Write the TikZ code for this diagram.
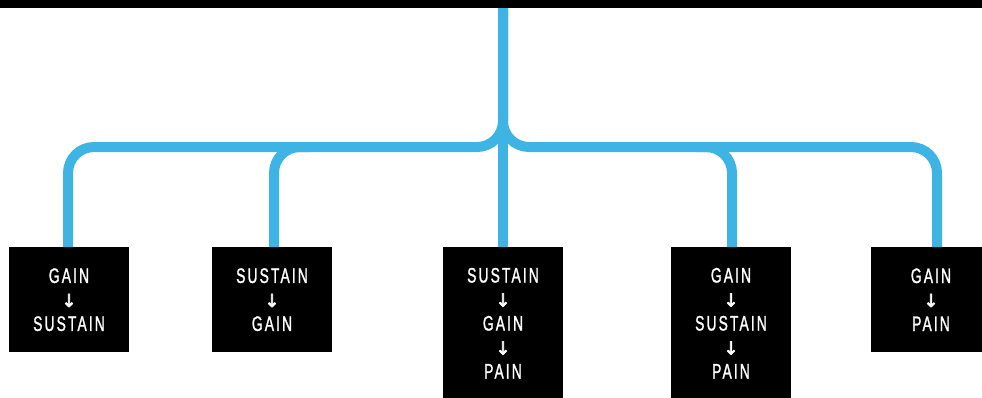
\documentclass[tikz,border=0pt]{standalone}
\usepackage{fontspec}
\usepackage{tikz}
\usetikzlibrary{positioning}
\newfontfamily\boxfont{Liberation Sans}[FakeStretch=0.66, LetterSpace=10, FakeBold=1.2]
\newfontfamily\arrfont{DejaVu Sans}[FakeBold=3]
\definecolor{skyblue}{RGB}{62,180,228}
\newcommand{\dn}{{\arrfont\fontsize{18}{24}\selectfont ↓}}
\tikzset{
  pathbox/.style={rectangle, fill=black, text=white, inner sep=0pt,
    minimum width=120pt, minimum height=105pt, anchor=north,
    align=center, font=\boxfont\fontsize{21}{24}\selectfont},
  pathboxL/.style={pathbox, minimum height=152pt},
  link/.style={draw=skyblue, line width=10pt, rounded corners=26pt},
}
\begin{document}
\begin{tikzpicture}[x=1pt, y=-1pt]
  \useasboundingbox (0,0) rectangle (982,397);

  \node[fill=black, minimum width=982pt, minimum height=8pt, inner sep=0pt,
        anchor=north west] (bar) at (0,0) {};

  \node[pathbox]  (gs)  at (69,247)  {GAIN\\\dn\\SUSTAIN};
  \node[pathbox]  (sg)  at (272,247) {SUSTAIN\\\dn\\GAIN};
  \node[pathboxL] (sgp) at (503,247) {SUSTAIN\\\dn\\GAIN\\\dn\\PAIN};
  \node[pathboxL] (gsp) at (731,247) {GAIN\\\dn\\SUSTAIN\\\dn\\PAIN};
  \node[pathbox]  (gp)  at (931,247) {GAIN\\\dn\\PAIN};

  \coordinate (hub) at (503,147);
  \coordinate (dropA) at (68,147);
  \coordinate (dropB) at (274,147);
  \coordinate (dropD) at (732,147);
  \coordinate (dropE) at (937,147);

  \draw[link] (bar.south -| hub) -- (sgp.north);
  \draw[link] (bar.south -| hub) -- (hub) -- (dropA) -- (gs.north -| dropA);
  \draw[link] (bar.south -| hub) -- (hub) -- (dropE) -- (gp.north -| dropE);
  \draw[link] ([xshift=36pt]dropB) -- (dropB) -- (sg.north -| dropB);
  \draw[link] ([xshift=-36pt]dropD) -- (dropD) -- (gsp.north -| dropD);
\end{tikzpicture}
\end{document}
